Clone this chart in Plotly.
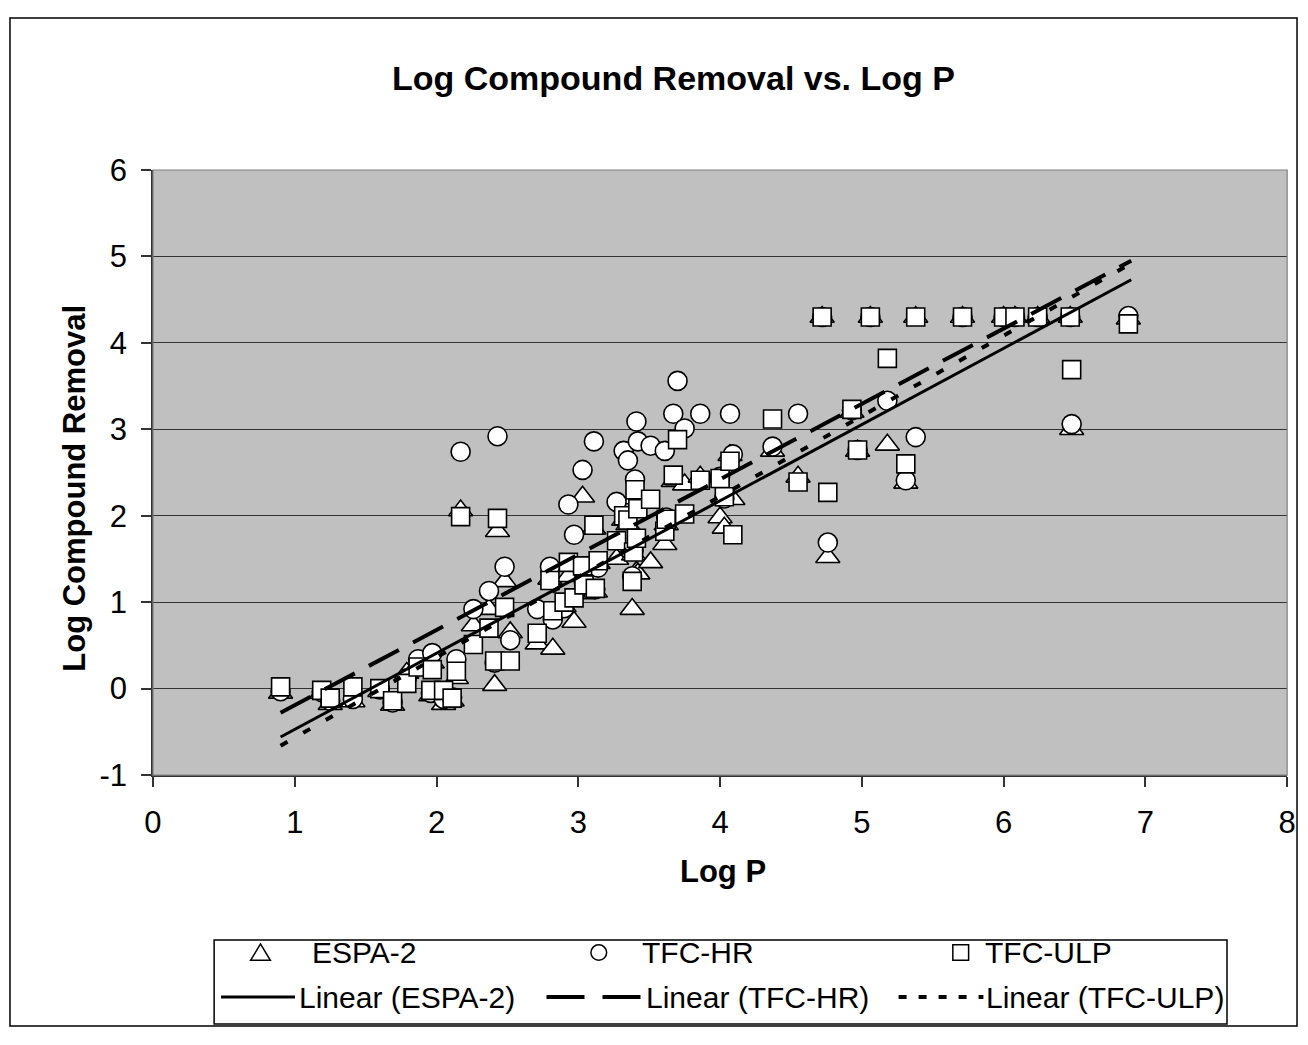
import plotly.graph_objects as go

# ---------------- data ----------------
log_p = [0.90, 1.19, 1.25, 1.41, 1.60, 1.69, 1.79, 1.87, 1.96, 1.97,
         2.05, 2.11, 2.14, 2.17, 2.26, 2.37, 2.41, 2.43, 2.48, 2.52,
         2.71, 2.80, 2.82, 2.90, 2.93, 2.97, 3.03, 3.04, 3.11, 3.12,
         3.14, 3.27, 3.32, 3.35, 3.38, 3.39, 3.40, 3.41, 3.42, 3.51,
         3.61, 3.62, 3.67, 3.70, 3.75, 3.86, 4.00, 4.03, 4.07, 4.09,
         4.37, 4.55, 4.72, 4.76, 4.93, 4.97, 5.06, 5.18, 5.31, 5.38,
         5.71, 6.00, 6.08, 6.24, 6.47, 6.48, 6.88]

espa_2 = [-0.05, -0.05, -0.18, -0.15, -0.03, -0.19, 0.18, 0.28, -0.08, 0.30,
          -0.18, -0.14, 0.12, 2.06, 0.73, 0.92, 0.04, 1.82, 1.24, 0.65,
          0.52, 1.27, 0.46, 0.95, 1.30, 0.77, 2.22, 1.10, 1.85, 1.12,
          1.45, 1.50, 1.95, 1.90, 0.92, 1.55, 2.20, 1.35, 1.33, 1.46,
          1.67, 1.90, 2.40, 2.42, 2.36, 2.45, 1.98, 1.86, 2.70, 2.19,
          2.75, 2.45, 4.30, 1.52, 3.20, 2.75, 4.30, 2.82, 2.38, 4.30,
          4.30, 4.30, 4.30, 4.30, 4.30, 3.00, 4.28]

tfc_hr = [-0.03, -0.04, -0.14, -0.12, -0.01, -0.16, 0.12, 0.34, -0.05, 0.41,
          -0.12, -0.10, 0.34, 2.74, 0.92, 1.13, 0.30, 2.92, 1.41, 0.56,
          0.92, 1.41, 0.80, 0.93, 2.13, 1.78, 2.53, 1.22, 2.86, 1.15,
          1.40, 2.16, 2.75, 2.64, 1.30, 1.60, 2.42, 3.09, 2.86, 2.81,
          2.75, 1.98, 3.18, 3.56, 3.01, 3.18, 2.45, 2.20, 3.18, 2.71,
          2.80, 3.18, 4.30, 1.69, 3.22, 2.76, 4.30, 3.33, 2.41, 2.91,
          4.30, 4.30, 4.30, 4.30, 4.30, 3.06, 4.31]

tfc_ulp = [0.02, -0.02, -0.11, 0.02, 0.00, -0.14, 0.06, 0.25, -0.02, 0.22,
           -0.02, -0.11, 0.20, 1.99, 0.51, 0.70, 0.32, 1.97, 0.94, 0.32,
           0.64, 1.25, 0.90, 1.00, 1.46, 1.05, 1.42, 1.20, 1.89, 1.16,
           1.48, 1.71, 2.00, 1.95, 1.24, 1.58, 2.30, 1.74, 2.08, 2.19,
           1.82, 1.96, 2.47, 2.88, 2.02, 2.41, 2.43, 2.22, 2.63, 1.78,
           3.12, 2.39, 4.30, 2.27, 3.23, 2.76, 4.30, 3.82, 2.60, 4.30,
           4.30, 4.30, 4.30, 4.30, 4.30, 3.69, 4.22]

# linear trend lines (end points)
trend_x = [0.9, 6.9]
trend_espa_2 = [-0.56, 4.73]
trend_tfc_hr = [-0.28, 4.95]
trend_tfc_ulp = [-0.66, 4.92]

x_ticks = [0, 1, 2, 3, 4, 5, 6, 7, 8]
y_ticks = [-1, 0, 1, 2, 3, 4, 5, 6]
y_tick_text = ["-1", "0", "1", "2", "3", "4", "5", "6"]

# ---------------- layout helpers (pixel -> paper) ----------------
W, H = 1308, 1045
def px(x):
    return x / W
def py(y):
    return 1 - y / H

FONT = "Arial, 'Liberation Sans', sans-serif"

marker_line = dict(color="black", width=1.6)

fig = go.Figure()
fig.add_trace(go.Scatter(x=log_p, y=espa_2, mode="markers", name="ESPA-2",
                         marker=dict(symbol="triangle-up", size=21, color="white", line=marker_line)))
fig.add_trace(go.Scatter(x=log_p, y=tfc_hr, mode="markers", name="TFC-HR",
                         marker=dict(symbol="circle", size=19, color="white", line=marker_line)))
fig.add_trace(go.Scatter(x=log_p, y=tfc_ulp, mode="markers", name="TFC-ULP",
                         marker=dict(symbol="square", size=18, color="white", line=marker_line)))
fig.add_trace(go.Scatter(x=trend_x, y=trend_espa_2, mode="lines", name="Linear (ESPA-2)",
                         line=dict(color="black", width=3)))
fig.add_trace(go.Scatter(x=trend_x, y=trend_tfc_hr, mode="lines", name="Linear (TFC-HR)",
                         line=dict(color="black", width=4, dash="34px,16px")))
fig.add_trace(go.Scatter(x=trend_x, y=trend_tfc_ulp, mode="lines", name="Linear (TFC-ULP)",
                         line=dict(color="black", width=4, dash="8px,18px")))

plot_l, plot_r, plot_t, plot_b = 146, 1296, 158.3, 784.3

fig.update_layout(
    width=W, height=H, autosize=False,
    margin=dict(l=0, r=0, t=0, b=0, pad=0),
    paper_bgcolor="white",
    plot_bgcolor="#C0C0C0",
    showlegend=False,
    font=dict(family=FONT, color="black", size=31),
    xaxis=dict(domain=[px(plot_l), px(plot_r)], range=[0, 8], tickvals=x_ticks,
               showgrid=False, zeroline=False, showline=True, linecolor="#333333", linewidth=1.5,
               ticks="outside", ticklen=10, tickwidth=1.5, tickcolor="#333333",
               ticklabelstandoff=9, tickfont=dict(size=31)),
    yaxis=dict(domain=[py(plot_b), py(plot_t)], range=[-1, 6], tickvals=y_ticks, ticktext=y_tick_text,
               showgrid=True, gridcolor="#333333", gridwidth=1.2, zeroline=False,
               showline=True, linecolor="#333333", linewidth=1.5,
               ticks="outside", ticklen=10, tickwidth=1.5, tickcolor="#333333",
               ticklabelstandoff=8, tickfont=dict(size=31)),
)

shapes = []
# gray plot-area border (top / right)
shapes.append(dict(type="rect", xref="paper", yref="paper",
                   x0=px(plot_l), x1=px(plot_r), y0=py(plot_b), y1=py(plot_t),
                   line=dict(color="#808080", width=1.2), layer="above"))
# outer chart border
shapes.append(dict(type="rect", xref="paper", yref="paper",
                   x0=px(1), x1=px(1306), y0=py(1044), y1=py(1),
                   line=dict(color="black", width=1.5)))
# legend box
shapes.append(dict(type="rect", xref="paper", yref="paper",
                   x0=px(208), x1=px(1235), y0=py(1042), y1=py(955),
                   line=dict(color="black", width=1.5), fillcolor="white"))
# legend markers
r1 = 968
tri_cx = 255
shapes.append(dict(type="path", xref="paper", yref="paper",
                   path=f"M {px(tri_cx-10)} {py(r1+8)} L {px(tri_cx+10)} {py(r1+8)} L {px(tri_cx)} {py(r1-9)} Z",
                   line=dict(color="black", width=1.5), fillcolor="white"))
circ_cx = 598
shapes.append(dict(type="circle", xref="paper", yref="paper",
                   x0=px(circ_cx-8), x1=px(circ_cx+8), y0=py(r1+8), y1=py(r1-8),
                   line=dict(color="black", width=1.5), fillcolor="white"))
sq_cx = 965
shapes.append(dict(type="rect", xref="paper", yref="paper",
                   x0=px(sq_cx-8), x1=px(sq_cx+8), y0=py(r1+8), y1=py(r1-8),
                   line=dict(color="black", width=1.5), fillcolor="white"))
# legend line samples
r2 = 1014
shapes.append(dict(type="line", xref="paper", yref="paper",
                   x0=px(215), x1=px(290), y0=py(r2), y1=py(r2),
                   line=dict(color="black", width=3)))
shapes.append(dict(type="line", xref="paper", yref="paper",
                   x0=px(545), x1=px(642), y0=py(r2), y1=py(r2),
                   line=dict(color="black", width=4, dash="38px,18px")))
shapes.append(dict(type="line", xref="paper", yref="paper",
                   x0=px(902), x1=px(988), y0=py(r2), y1=py(r2),
                   line=dict(color="black", width=4, dash="8px,12px")))
fig.update_layout(shapes=shapes)

ann = []
ann.append(dict(text="<b>Log Compound Removal vs. Log P</b>", x=px(674), y=py(63),
                xref="paper", yref="paper", showarrow=False, xanchor="center", yanchor="middle",
                font=dict(size=34, family=FONT)))
ann.append(dict(text="<b>Log P</b>", x=px(724), y=py(884),
                xref="paper", yref="paper", showarrow=False, xanchor="center", yanchor="middle",
                font=dict(size=31, family=FONT)))
ann.append(dict(text="<b>Log Compound Removal</b>", x=px(67), y=py(488), textangle=-90,
                xref="paper", yref="paper", showarrow=False, xanchor="center", yanchor="middle",
                font=dict(size=31, family=FONT)))
leg_items = [("ESPA-2", 305, r1), ("TFC-HR", 640, r1), ("TFC-ULP", 988, r1),
             ("Linear (ESPA-2)", 292, r2), ("Linear (TFC-HR)", 644, r2), ("Linear (TFC-ULP)", 989, r2)]
for txt, lx, ly in leg_items:
    ann.append(dict(text=txt, x=px(lx), y=py(ly), xref="paper", yref="paper", showarrow=False,
                    xanchor="left", yanchor="middle", font=dict(size=30, family=FONT)))
fig.update_layout(annotations=ann)

fix_page = (
    "var s=document.createElement('style');"
    "s.innerHTML='html,body{margin:0 !important;padding:0 !important;overflow:hidden;}"
    ".plotly-graph-div{position:fixed !important;left:0;top:0;}';"
    "document.head.appendChild(s);"
)
fig.write_html("out.html", config={"displayModeBar": False, "responsive": False},
               post_script=fix_page)
